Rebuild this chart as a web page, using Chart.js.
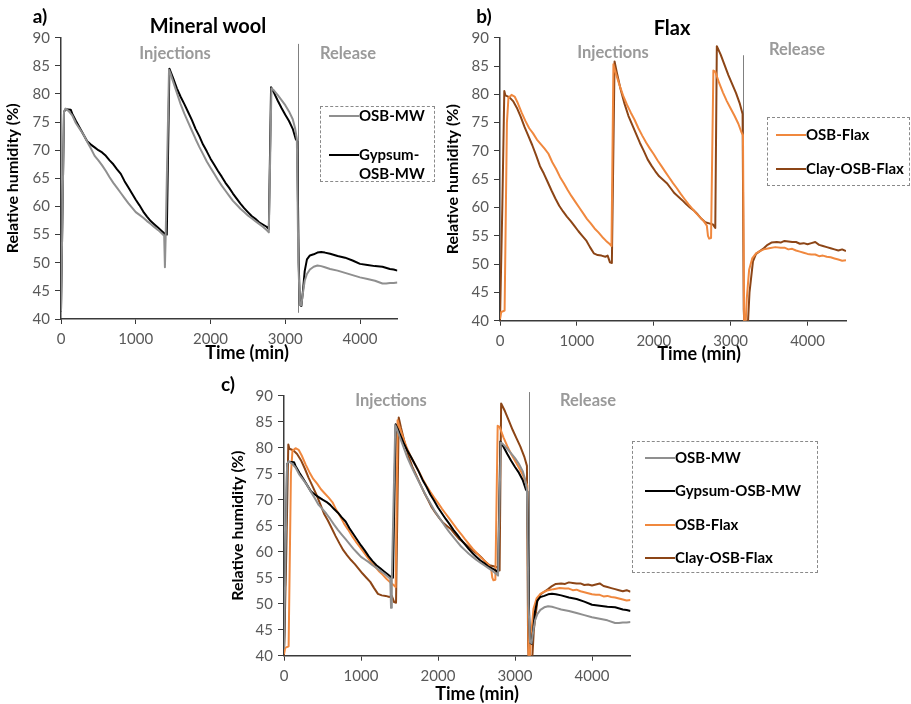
<!DOCTYPE html>
<html>
<head>
<meta charset="utf-8">
<script src="https://cdn.jsdelivr.net/npm/chart.js@4.4.1/dist/chart.umd.min.js"></script>
<style>
  body { margin: 0; width: 911px; height: 704px; background: #fff; position: relative; overflow: hidden; font-family: Lato, sans-serif; }
  canvas { position: absolute; }
  .txt { position: absolute; white-space: nowrap; font-weight: bold; transform: translate(-50%, -50%); line-height: 1; }
  .panel { font-size: 19px; color: #000; }
  .title { font-size: 20px; color: #000; }
  .phase { font-size: 16.5px; color: #9a9a9a; }
  .xtitle { font-size: 18px; color: #000; }
  .legend { position: absolute; border: 1px dashed #8a8a8a; box-sizing: border-box; }
  .row { position: absolute; display: flex; align-items: flex-start; font-size: 15px; font-weight: bold; line-height: 19px; color: #000; }
  .swatch { display: inline-block; width: 30px; height: 2px; margin-top: 9px; flex: none; }
</style>
</head>
<body>
<canvas id="chartA" width="450" height="365" style="left:0;top:0"></canvas>
<canvas id="chartB" width="471" height="365" style="left:440px;top:0"></canvas>
<canvas id="chartC" width="450" height="334" style="left:225px;top:370px"></canvas>

<div class="txt panel" style="left:40px;top:15px">a)</div>
<div class="txt title" style="left:208px;top:25px">Mineral wool</div>
<div class="txt phase" style="left:175px;top:53px">Injections</div>
<div class="txt phase" style="left:348px;top:53px">Release</div>
<div class="txt xtitle" style="left:247px;top:352px">Time (min)</div>

<div class="txt panel" style="left:484px;top:15px">b)</div>
<div class="txt title" style="left:672px;top:27px">Flax</div>
<div class="txt phase" style="left:613px;top:52px">Injections</div>
<div class="txt phase" style="left:797px;top:49px">Release</div>
<div class="txt xtitle" style="left:699px;top:353px">Time (min)</div>

<div class="txt panel" style="left:228px;top:383px">c)</div>
<div class="txt phase" style="left:391px;top:400px">Injections</div>
<div class="txt phase" style="left:588px;top:400px">Release</div>
<div class="txt xtitle" style="left:477px;top:693px">Time (min)</div>

<script>
// OSB-MW (grey)
const osbMwTime = [0, 40, 60, 100, 150, 200, 250, 300, 350, 400, 450, 500, 550, 600, 650, 700, 750, 800, 850, 900, 950, 1000, 1050, 1100, 1150, 1200, 1250, 1300, 1350, 1380, 1390, 1400, 1445, 1460, 1500, 1550, 1600, 1650, 1700, 1750, 1800, 1850, 1900, 1950, 2000, 2050, 2100, 2150, 2200, 2250, 2300, 2350, 2400, 2450, 2500, 2550, 2600, 2650, 2700, 2750, 2780, 2815, 2850, 2900, 2950, 3000, 3050, 3100, 3130, 3155, 3175, 3195, 3215, 3235, 3260, 3290, 3330, 3380, 3430, 3480, 3530, 3600, 3700, 3800, 3900, 4000, 4100, 4200, 4300, 4350, 4400, 4450, 4500];
const osbMwRH = [41.3, 76.8, 77.4, 77.0, 76.2, 74.8, 73.8, 72.8, 71.5, 70.3, 69.0, 68.2, 67.3, 66.3, 65.2, 64.2, 63.3, 62.4, 61.5, 60.6, 59.8, 59.0, 58.5, 58.0, 57.4, 56.9, 56.3, 55.8, 55.2, 54.8, 49.2, 54.6, 84.3, 83.8, 82.2, 80.2, 78.2, 76.5, 75.0, 73.5, 72.0, 70.6, 69.3, 68.0, 66.9, 65.8, 64.7, 63.7, 62.8, 61.9, 61.0, 60.3, 59.6, 59.0, 58.4, 57.9, 57.4, 56.9, 56.4, 55.8, 55.4, 81.0, 80.6, 79.8, 78.9, 78.0, 76.9, 75.5, 74.0, 72.0, 50.0, 42.6, 42.4, 44.5, 46.8, 48.0, 48.8, 49.3, 49.5, 49.4, 49.2, 48.9, 48.6, 48.2, 47.8, 47.4, 47.1, 46.8, 46.3, 46.3, 46.4, 46.4, 46.5];

// Gypsum-OSB-MW (black)
const gypsumTime = [0, 40, 60, 130, 150, 200, 250, 300, 350, 400, 450, 500, 550, 600, 650, 700, 750, 800, 850, 900, 950, 1000, 1050, 1100, 1150, 1200, 1250, 1300, 1350, 1400, 1415, 1450, 1500, 1550, 1600, 1650, 1700, 1750, 1800, 1850, 1900, 1950, 2000, 2050, 2100, 2150, 2200, 2250, 2300, 2350, 2400, 2450, 2500, 2550, 2600, 2650, 2700, 2750, 2780, 2810, 2850, 2900, 2950, 3000, 3050, 3100, 3140, 3160, 3180, 3195, 3215, 3235, 3260, 3290, 3330, 3380, 3430, 3480, 3530, 3600, 3700, 3800, 3900, 4000, 4100, 4200, 4300, 4400, 4450, 4500];
const gypsumRH = [41.3, 76.8, 77.3, 77.2, 76.5, 75.2, 74.0, 72.8, 71.6, 71.0, 70.5, 70.0, 69.6, 69.0, 68.2, 67.5, 66.6, 65.8, 64.5, 63.4, 62.3, 61.2, 60.2, 59.1, 58.2, 57.4, 56.8, 56.2, 55.6, 55.0, 55.0, 84.5, 82.8, 81.0, 79.5, 78.2, 76.8, 75.4, 73.8, 72.5, 71.0, 69.8, 68.5, 67.4, 66.3, 65.3, 64.2, 63.3, 62.3, 61.4, 60.5, 59.7, 59.0, 58.3, 57.8, 57.2, 56.8, 56.4, 56.0, 81.2, 80.2, 78.8, 77.5, 76.3, 75.2, 73.8, 72.0, 71.6, 50.0, 42.6, 42.3, 44.8, 48.5, 50.6, 51.3, 51.5, 51.8, 51.9, 51.8, 51.6, 51.2, 50.9, 50.4, 49.8, 49.6, 49.4, 49.3, 48.9, 48.8, 48.6];

// OSB-Flax (orange)
const osbFlaxTime = [0, 15, 60, 90, 110, 150, 190, 230, 280, 330, 380, 430, 480, 530, 580, 630, 680, 730, 780, 830, 880, 930, 980, 1030, 1080, 1130, 1180, 1230, 1280, 1330, 1380, 1430, 1450, 1475, 1500, 1550, 1600, 1650, 1700, 1750, 1800, 1850, 1900, 1950, 2000, 2050, 2100, 2150, 2200, 2250, 2300, 2350, 2400, 2450, 2500, 2550, 2600, 2650, 2690, 2705, 2720, 2745, 2775, 2800, 2850, 2900, 2950, 3000, 3050, 3100, 3140, 3160, 3175, 3190, 3210, 3240, 3280, 3330, 3380, 3430, 3500, 3580, 3650, 3700, 3750, 3800, 3850, 3900, 3950, 4000, 4050, 4100, 4150, 4200, 4250, 4300, 4350, 4400, 4450, 4500];
const osbFlaxRH = [40.3, 41.5, 41.8, 75.0, 79.4, 79.9, 79.6, 78.5, 76.8, 75.3, 74.0, 73.1, 72.0, 71.2, 70.4, 69.5, 68.0, 66.8, 65.4, 64.3, 63.1, 62.0, 61.0, 60.0, 59.0, 58.0, 57.2, 56.3, 55.6, 54.8, 54.1, 53.5, 53.2, 85.3, 84.0, 81.8, 79.8, 78.2, 76.8, 75.5, 74.0, 72.7, 71.5, 70.4, 69.4, 68.3, 67.3, 66.3, 65.3, 64.3, 63.4, 62.4, 61.5, 60.6, 59.8, 59.0, 58.3, 57.6, 56.8, 55.0, 54.5, 54.6, 84.2, 84.0, 82.0, 80.3, 78.8, 77.5, 76.2, 74.8, 73.3, 72.8, 40.0, 38.0, 44.0, 49.0, 51.0, 51.9, 52.3, 52.6, 52.8, 53.0, 52.9, 52.9, 52.6, 52.7, 52.4, 52.2, 52.0, 51.8, 51.7, 51.7, 51.4, 51.5, 51.3, 51.2, 51.0, 50.8, 50.6, 50.7];

// Clay-OSB-Flax (brown)
const clayTime = [0, 30, 56, 70, 120, 170, 220, 270, 320, 370, 420, 470, 520, 570, 620, 670, 720, 770, 820, 870, 920, 970, 1020, 1070, 1120, 1170, 1220, 1270, 1320, 1370, 1400, 1430, 1455, 1490, 1520, 1570, 1620, 1670, 1720, 1770, 1820, 1870, 1920, 1970, 2020, 2070, 2120, 2170, 2220, 2270, 2320, 2370, 2420, 2470, 2520, 2570, 2620, 2670, 2720, 2770, 2800, 2820, 2870, 2920, 2970, 3020, 3070, 3120, 3155, 3170, 3185, 3215, 3245, 3290, 3330, 3380, 3430, 3480, 3530, 3600, 3650, 3700, 3750, 3800, 3850, 3900, 3950, 4000, 4050, 4100, 4150, 4200, 4250, 4300, 4350, 4400, 4450, 4500];
const clayRH = [40.0, 60.0, 80.6, 79.8, 79.5, 78.8, 77.6, 76.0, 74.2, 72.6, 71.0, 69.2, 67.3, 66.0, 64.5, 63.0, 61.6, 60.3, 59.3, 58.4, 57.6, 56.7, 55.8, 55.0, 54.2, 53.0, 51.9, 51.6, 51.5, 51.3, 51.5, 50.3, 50.2, 85.8, 83.8, 80.8, 78.3, 76.2, 74.6, 73.0, 71.4, 70.0, 68.5, 67.4, 66.4, 65.5, 64.9, 64.3, 63.4, 62.5, 61.9, 61.3, 60.6, 60.0, 59.5, 58.8, 58.0, 57.4, 57.2, 57.0, 56.4, 88.5, 87.0, 85.2, 83.4, 81.8, 80.2, 78.3, 76.5, 42.0, 37.0, 37.0, 45.0, 50.5, 51.8, 52.3, 52.8, 53.4, 53.8, 53.9, 53.8, 54.1, 54.0, 53.9, 53.9, 53.6, 53.7, 53.5, 53.7, 53.9, 53.4, 53.2, 53.0, 52.8, 52.6, 52.4, 52.6, 52.3];

// tick labels
const xTickValues = [0, 1000, 2000, 3000, 4000];
const yTickValues = [40, 45, 50, 55, 60, 65, 70, 75, 80, 85, 90];

const osbMw = { label: 'OSB-MW', time: osbMwTime, rh: osbMwRH, color: '#8f8f8f' };
const gypsum = { label: 'Gypsum-OSB-MW', time: gypsumTime, rh: gypsumRH, color: '#000000' };
const osbFlax = { label: 'OSB-Flax', time: osbFlaxTime, rh: osbFlaxRH, color: '#f0883e' };
const clay = { label: 'Clay-OSB-Flax', time: clayTime, rh: clayRH, color: '#8c4516' };

const FONT = 'Lato, sans-serif';
const AXIS = '#3a3a3a';

// vertical line that separates injections and release
const releaseLine = {
  id: 'releaseLine',
  beforeDatasetsDraw(chart, args, opts) {
    const { ctx, scales: { x, y } } = chart;
    const px = Math.round(x.getPixelForValue(opts.at)) + 0.5;
    ctx.save();
    ctx.strokeStyle = '#808080';
    ctx.lineWidth = 1;
    ctx.beginPath();
    ctx.moveTo(px, y.getPixelForValue(opts.from));
    ctx.lineTo(px, y.getPixelForValue(opts.to));
    ctx.stroke();
    ctx.restore();
  }
};

function makeChart(id, series, lay) {
  return new Chart(document.getElementById(id), {
    type: 'line',
    data: {
      datasets: series.map(s => ({
        label: s.label,
        data: s.time.map((t, i) => ({ x: t, y: s.rh[i] })),
        borderColor: s.color,
        borderWidth: 2,
        pointRadius: 0,
        tension: 0,
        borderJoinStyle: 'round'
      }))
    },
    plugins: [releaseLine],
    options: {
      responsive: false,
      animation: false,
      layout: { padding: { left: 0, top: lay.top, right: lay.right, bottom: 0 } },
      plugins: {
        legend: { display: false },
        tooltip: { enabled: false },
        releaseLine: lay.line
      },
      scales: {
        x: {
          type: 'linear', min: 0, max: 4500,
          afterFit: s => { s.height = lay.xh; },
          afterBuildTicks: s => { s.ticks = xTickValues.map(v => ({ value: v })); },
          ticks: { autoSkip: false, maxRotation: 0, padding: 6, color: '#595959', font: { family: FONT, size: 15 }, callback: v => String(v) },
          grid: { drawOnChartArea: false, tickLength: 5, color: AXIS },
          border: { color: AXIS, width: 1.5 }
        },
        y: {
          min: 40, max: 90,
          afterFit: s => { s.width = lay.yw; },
          afterBuildTicks: s => { s.ticks = yTickValues.map(v => ({ value: v })); },
          ticks: { autoSkip: false, padding: 5, color: '#595959', font: { family: FONT, size: 15 }, callback: v => String(v) },
          grid: { drawOnChartArea: false, tickLength: 6, color: AXIS },
          border: { color: AXIS, width: 1.5 },
          title: { display: true, text: 'Relative humidity (%)', color: '#000', padding: { top: 3, bottom: 0 }, font: { family: FONT, size: 16, weight: 'bold' } }
        }
      }
    }
  });
}

function makeLegend(series, box) {
  const div = document.createElement('div');
  div.className = 'legend';
  Object.assign(div.style, { left: box.left + 'px', top: box.top + 'px', width: box.width + 'px', height: box.height + 'px' });
  series.forEach((s, i) => {
    const row = document.createElement('div');
    row.className = 'row';
    row.style.left = box.lineX + 'px';
    row.style.top = (box.first + i * box.gap) + 'px';
    const sw = document.createElement('span');
    sw.className = 'swatch';
    sw.style.background = s.color;
    const lab = document.createElement('span');
    lab.textContent = s.label;
    if (box.textW) { lab.style.width = box.textW + 'px'; lab.style.whiteSpace = 'normal'; }
    row.appendChild(sw);
    row.appendChild(lab);
    div.appendChild(row);
  });
  document.body.appendChild(div);
}

makeChart('chartA', [osbMw, gypsum], { top: 37.7, right: 52.6, xh: 46, yw: 61, line: { at: 3167, from: 88.9, to: 41.1 } });
makeChart('chartB', [osbFlax, clay], { top: 37.7, right: 65, xh: 44.3, yw: 60, line: { at: 3164, from: 86.9, to: 40 } });
makeChart('chartC', [osbMw, gypsum, osbFlax, clay], { top: 25.7, right: 44.5, xh: 48.3, yw: 59, line: { at: 3188, from: 90.7, to: 40 } });

makeLegend([osbMw, gypsum], { left: 320, top: 106, width: 115, height: 76, lineX: 8, first: -1, gap: 39, textW: 72 });
makeLegend([osbFlax, clay], { left: 767, top: 117, width: 143, height: 69, lineX: 8, first: 7, gap: 34 });
makeLegend([osbMw, gypsum, osbFlax, clay], { left: 632, top: 441, width: 186, height: 132, lineX: 12, first: 6, gap: 33.3 });
</script>
</body>
</html>
